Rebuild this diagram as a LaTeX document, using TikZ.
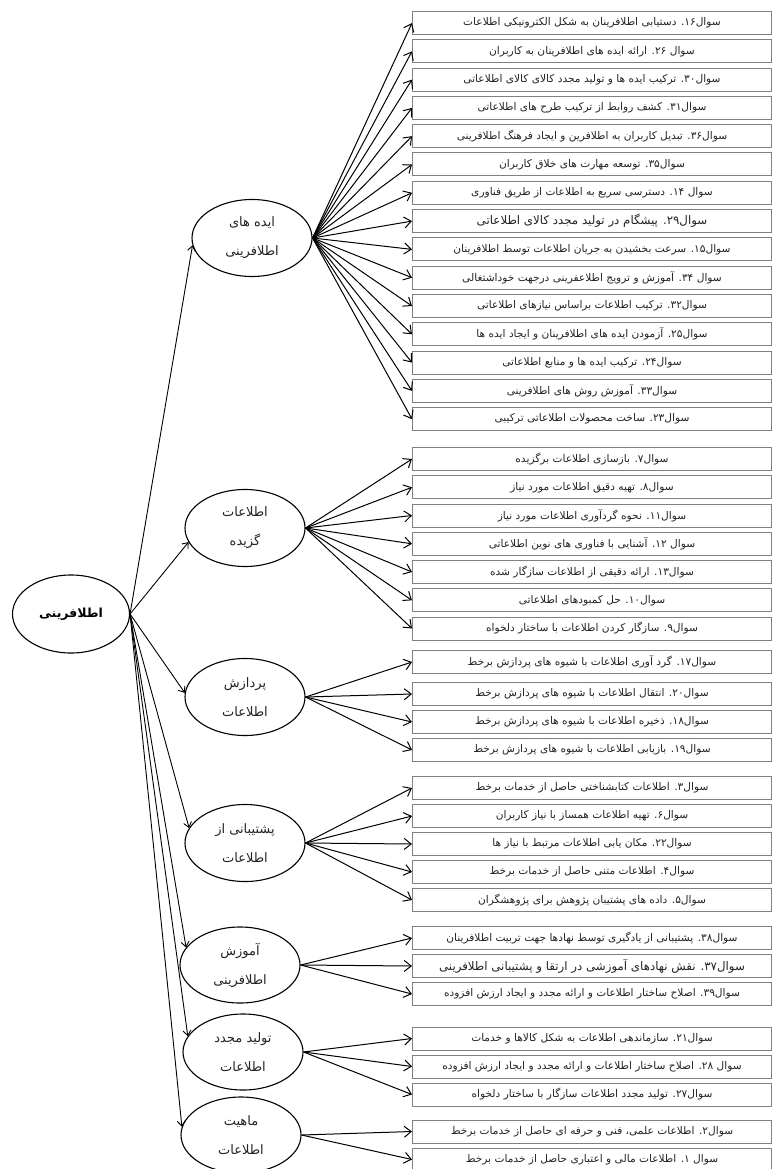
\documentclass[tikz,border=0pt]{standalone}
\usepackage{fontspec}
\usetikzlibrary{shapes.geometric,arrows.meta}
\newfontfamily\fa[Script=Arabic]{DejaVu Sans}
\TeXXeTstate=1
\newcommand\RL[1]{\beginR #1\endR}
\definecolor{boxgray}{RGB}{128,128,128}
\definecolor{txtgray}{RGB}{35,35,35}
\tikzset{
  qbox/.style={draw=boxgray, line width=1pt, minimum width=359pt, minimum height=23pt,
    inner sep=0pt, anchor=west, font=\fa\fontsize{10.6}{12}\selectfont, text=txtgray},
  cat/.style={ellipse, draw, line width=1.1pt, minimum width=120pt, minimum height=77pt,
    inner sep=0pt, align=center, font=\fa\fontsize{13}{29}\selectfont, text=txtgray},
  fan/.style={line width=1pt, -{Straight Barb[length=7pt,width=11pt]}},
  rootarr/.style={line width=0.9pt, -{Straight Barb[length=5pt,width=8pt]}}
}
\newcommand\bigq{\fontsize{11.8}{13}\selectfont}
\begin{document}
\begin{tikzpicture}[x=1pt,y=-1pt]
\useasboundingbox (0,0) rectangle (773,1169);
\clip (0,0) rectangle (773,1169);

% root
\node[cat, minimum width=117pt, minimum height=78pt, font=\fa\bfseries\fontsize{12.5}{14}\selectfont, text=black] (root) at (71,614) {\RL{اطلافرینی}};

% categories
\node[cat] (e1) at (252,238) {\RL{ایده های}\\\RL{اطلافرینی}};
\node[cat] (e2) at (245,528) {\RL{اطلاعات}\\\RL{گزیده}};
\node[cat] (e3) at (245,697) {\RL{پردازش}\\\RL{اطلاعات}};
\node[cat] (e4) at (245,843) {\RL{پشتیبانی از}\\\RL{اطلاعات}};
\node[cat, minimum height=76pt] (e5) at (240,965) {\RL{آموزش}\\\RL{اطلافرینی}};
\node[cat, minimum height=76pt] (e6) at (243,1052) {\RL{تولید مجدد}\\\RL{اطلاعات}};
\node[cat, minimum height=76pt] (e7) at (241,1135) {\RL{ماهیت}\\\RL{اطلاعات}};

% root arrows
\draw[rootarr] (root.east) -- (e1.187);
\draw[rootarr] (root.east) -- (e2.194);
\draw[rootarr] (root.east) -- (e3.176);
\draw[rootarr] (root.east) -- (e4.165);
\draw[rootarr] (root.east) -- (e5.162);
\draw[rootarr] (root.east) -- (e6.164);
\draw[rootarr] (root.east) -- (e7.172);

% group 1
\foreach \y/\t [count=\i] in {
 23/{سوال۱۶. دستیابی اطلافرینان به شکل الکترونیکی اطلاعات},
 51.3/{سوال ۲۶. ارائه ایده های اطلافرینان به کاربران},
 79.6/{سوال۳۰. ترکیب ایده ها و تولید مجدد کالای کالای اطلاعاتی},
 107.9/{سوال۳۱. کشف روابط از ترکیب طرح های اطلاعاتی},
 136.2/{سوال۳۶. تبدیل کاربران به اطلافرین و ایجاد فرهنگ اطلافرینی},
 164.5/{سوال۳۵. توسعه مهارت های خلاق کاربران},
 192.8/{سوال ۱۴. دسترسی سریع به اطلاعات از طریق فناوری},
 221.1/{\bigq سوال۲۹. پیشگام در تولید مجدد کالای اطلاعاتی},
 249.4/{سوال۱۵. سرعت بخشیدن به جریان اطلاعات توسط اطلافرینان},
 277.7/{سوال ۳۴. آموزش و ترویج اطلاعفرینی درجهت خوداشتغالی},
 306/{سوال۳۲. ترکیب اطلاعات براساس نیازهای اطلاعاتی},
 334.3/{سوال۲۵. آزمودن ایده های اطلافرینان و ایجاد ایده ها},
 362.6/{سوال۲۴. ترکیب ایده ها و منابع اطلاعاتی},
 390.9/{سوال۳۳. آموزش روش های اطلافرینی},
 419.2/{سوال۲۳. ساخت محصولات اطلاعاتی ترکیبی}}
{ \node[qbox] (ga\i) at (412,\y) {\RL{\t}};
  \draw[fan] (e1.east) -- (ga\i.west); }

% group 2
\foreach \y/\t [count=\i] in {
 459/{سوال۷. بازسازی اطلاعات برگزیده},
 487.3/{سوال۸. تهیه دقیق اطلاعات مورد نیاز},
 515.5/{سوال۱۱. نحوه گردآوری اطلاعات مورد نیاز},
 543.8/{سوال ۱۲. آشنایی با فناوری های نوین اطلاعاتی},
 572/{سوال۱۳. ارائه دقیقی از اطلاعات سازگار شده},
 600.3/{سوال۱۰. حل کمبودهای اطلاعاتی},
 628.5/{سوال۹. سازگار کردن اطلاعات با ساختار دلخواه}}
{ \node[qbox] (gb\i) at (412,\y) {\RL{\t}};
  \draw[fan] (e2.east) -- (gb\i.west); }

% group 3
\foreach \y/\t [count=\i] in {
 662/{سوال۱۷. گرد آوری اطلاعات با شیوه های پردازش برخط},
 694/{سوال۲۰. انتقال اطلاعات با شیوه های پردازش برخط},
 722/{سوال۱۸. ذخیره اطلاعات با شیوه های پردازش برخط},
 750/{سوال۱۹. بازیابی اطلاعات با شیوه های پردازش برخط}}
{ \node[qbox] (gc\i) at (412,\y) {\RL{\t}};
  \draw[fan] (e3.east) -- (gc\i.west); }

% group 4
\foreach \y/\t [count=\i] in {
 788/{سوال۳. اطلاعات کتابشناختی حاصل از خدمات برخط},
 816/{سوال۶. تهیه اطلاعات همساز با نیاز کاربران},
 844/{سوال۲۲. مکان یابی اطلاعات مرتبط با نیاز ها},
 872/{سوال۴. اطلاعات متنی حاصل از خدمات برخط},
 900/{سوال۵. داده های پشتیبان پژوهش برای پژوهشگران}}
{ \node[qbox] (gd\i) at (412,\y) {\RL{\t}};
  \draw[fan] (e4.east) -- (gd\i.west); }

% group 5
\foreach \y/\t [count=\i] in {
 938/{سوال۳۸. پشتیبانی از یادگیری توسط نهادها جهت تربیت اطلافرینان},
 966/{\bigq سوال۳۷. نقش نهادهای آموزشی در ارتقا و پشتیبانی اطلافرینی},
 994/{سوال۳۹. اصلاح ساختار اطلاعات و ارائه مجدد و ایجاد ارزش افزوده}}
{ \node[qbox] (ge\i) at (412,\y) {\RL{\t}};
  \draw[fan] (e5.east) -- (ge\i.west); }

% group 6
\foreach \y/\t [count=\i] in {
 1038.5/{سوال۲۱. سازماندهی اطلاعات به شکل کالاها و خدمات},
 1066.5/{سوال ۲۸. اصلاح ساختار اطلاعات و ارائه مجدد و ایجاد ارزش افزوده},
 1094.5/{سوال۲۷. تولید مجدد اطلاعات سازگار با ساختار دلخواه}}
{ \node[qbox] (gf\i) at (412,\y) {\RL{\t}};
  \draw[fan] (e6.east) -- (gf\i.west); }

% group 7
\foreach \y/\t [count=\i] in {
 1131.5/{سوال۲. اطلاعات علمی، فنی و حرفه ای حاصل از خدمات برخط},
 1159.5/{سوال ۱. اطلاعات مالی و اعتباری حاصل از خدمات برخط}}
{ \node[qbox] (gg\i) at (412,\y) {\RL{\t}};
  \draw[fan] (e7.east) -- (gg\i.west); }
\end{tikzpicture}
\end{document}
